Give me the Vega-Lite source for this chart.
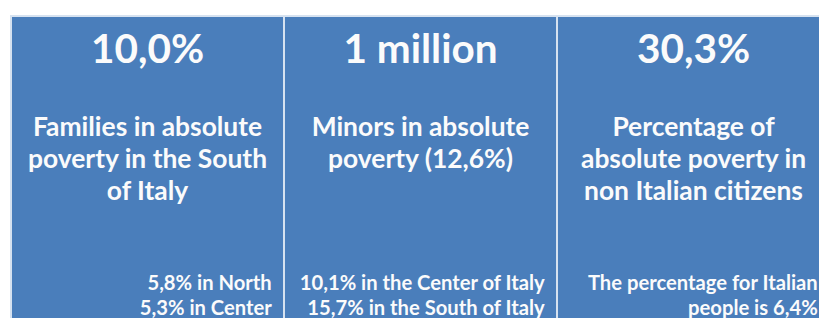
{
  "$schema": "https://vega.github.io/schema/vega-lite/v6.json",
  "width": 819,
  "height": 320,
  "autosize": {"type": "none"},
  "padding": {"top": 16, "left": 0, "right": 0, "bottom": 0},
  "background": "white",
  "config": {"view": {"stroke": null}},
  "datasets": {
    "panels": [
      {"panel": "A", "line": 1, "headline": "10,0%"},
      {"panel": "B", "line": 1, "headline": "1 million"},
      {"panel": "C", "line": 1, "headline": "30,3%"}
    ],
    "labels": [
      {"panel": "A", "line": 1, "text": "Families in absolute"},
      {"panel": "A", "line": 2, "text": "poverty in the South"},
      {"panel": "A", "line": 3, "text": "of Italy"},
      {"panel": "B", "line": 1, "text": "Minors in absolute"},
      {"panel": "B", "line": 2, "text": "poverty (12,6%)"},
      {"panel": "C", "line": 1, "text": "Percentage of"},
      {"panel": "C", "line": 2, "text": "absolute poverty in"},
      {"panel": "C", "line": 3, "text": "non Italian citizens"}
    ],
    "notes": [
      {"panel": "A", "line": 1, "text": "5,8% in North"},
      {"panel": "A", "line": 2, "text": "5,3% in Center"},
      {"panel": "B", "line": 1, "text": "10,1% in the Center of Italy"},
      {"panel": "B", "line": 2, "text": "15,7% in the South of Italy"},
      {"panel": "C", "line": 1, "text": "The percentage for Italian"},
      {"panel": "C", "line": 2, "text": "people is 6,4%"}
    ]
  },
  "encoding": {
    "x": {
      "field": "panel",
      "type": "nominal",
      "axis": null,
      "scale": {"domain": ["A", "B", "C"], "range": [11, 830], "paddingInner": 0, "paddingOuter": 0}
    }
  },
  "layer": [
    {
      "data": {"name": "panels"},
      "mark": {"type": "rect", "fill": "#4a7ebb", "stroke": "#d6e2f0", "strokeWidth": 2}
    },
    {
      "data": {"name": "panels"},
      "mark": {"type": "text", "font": "Lato", "fontWeight": "bold", "fontSize": 40.5, "fill": "#fbfbfb", "align": "center", "baseline": "alphabetic"},
      "encoding": {
        "x": {"field": "panel", "type": "nominal", "bandPosition": 0.5},
        "y": {"field": "line", "type": "ordinal", "axis": null, "scale": {"range": [47, 47]}},
        "text": {"field": "headline"}
      }
    },
    {
      "data": {"name": "labels"},
      "mark": {"type": "text", "font": "Lato", "fontWeight": "bold", "fontSize": 26.4, "fill": "#fbfbfb", "align": "center", "baseline": "alphabetic"},
      "encoding": {
        "x": {"field": "panel", "type": "nominal", "bandPosition": 0.5},
        "y": {"field": "line", "type": "ordinal", "axis": null, "scale": {"type": "point", "range": [120, 184], "padding": 0}},
        "text": {"field": "text"}
      }
    },
    {
      "data": {"name": "notes"},
      "mark": {"type": "text", "font": "Lato", "fontWeight": "bold", "fontSize": 20.2, "fill": "#fbfbfb", "align": "right", "baseline": "alphabetic"},
      "encoding": {
        "x": {"field": "panel", "type": "nominal", "bandPosition": 0.955},
        "y": {"field": "line", "type": "ordinal", "axis": null, "scale": {"type": "point", "range": [274, 299], "padding": 0}},
        "text": {"field": "text"}
      }
    }
  ],
  "resolve": {"scale": {"y": "independent"}}
}
